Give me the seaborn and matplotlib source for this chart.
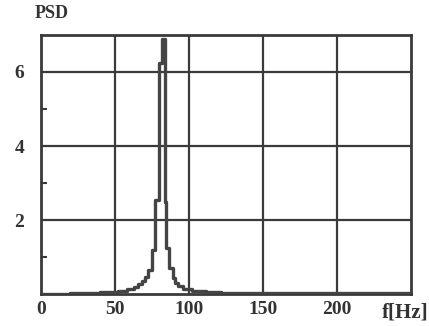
import matplotlib
matplotlib.use("Agg")
import matplotlib.pyplot as plt
import seaborn as sns
import pandas as pd

# Data (staircase PSD, values hold until next frequency)
freq_hz = [0, 20, 40, 52, 58, 63, 66, 68.5, 70.5, 72.5, 75.2, 77.2, 80.0, 82.0,
           84.0, 85.0, 86.7, 89.4, 91.0, 93.0, 96.0, 102.0, 112.0, 122.0, 250.0]
psd_vals = [0.02, 0.05, 0.07, 0.10, 0.15, 0.20, 0.27, 0.36, 0.48, 0.65, 1.20, 2.55, 6.25, 6.90,
            2.50, 1.25, 0.70, 0.45, 0.32, 0.22, 0.14, 0.10, 0.07, 0.03, 0.03]
x_ticks = [0, 50, 100, 150, 200]
y_ticks = [2, 4, 6]
x_tick_labels = ["0", "50", "100", "150", "200"]
y_tick_labels = ["2", "4", "6"]

sns.set_theme(style="white")
plt.rcParams["font.family"] = ["Liberation Serif", "DejaVu Serif"]
plt.rcParams["font.weight"] = "bold"

df = pd.DataFrame({"f": freq_hz, "psd": psd_vals})

fig = plt.figure(figsize=(4.29, 3.26), dpi=100)
ax = fig.add_axes([0.095, 0.097, 0.862, 0.796])

ink = "#3a3a3a"
ax.set_xlim(0, 250)
ax.set_ylim(0, 7)
ax.set_xticks(x_ticks)
ax.set_xticklabels(x_tick_labels)
ax.set_yticks(y_ticks)
ax.set_yticklabels(y_tick_labels)
ax.set_yticks([1, 3, 5], minor=True)
ax.grid(True, which="major", color=ink, linewidth=1.6)
ax.set_axisbelow(True)

sns.lineplot(data=df, x="f", y="psd", ax=ax, drawstyle="steps-post",
             color="#444444", linewidth=2.4, sort=False, zorder=3)

for s in ax.spines.values():
    s.set_color(ink)
    s.set_linewidth(2.0)

ax.tick_params(axis="both", which="major", length=0, labelsize=14, colors="#333333")
ax.tick_params(axis="x", pad=5)
ax.tick_params(axis="y", pad=12)
ax.tick_params(axis="y", which="minor", left=True, direction="in", length=4, width=1.5, color=ink)
for lab in ax.get_xticklabels() + ax.get_yticklabels():
    lab.set_fontweight("bold")

ax.set_xlabel("")
ax.set_ylabel("")
fig.text(35 / 429, 1 - 14 / 326, "PSD", fontsize=13, fontweight="bold",
         color="#333333", ha="left", va="center")
fig.text(428 / 429, 1 - 313 / 326, "f[Hz]", fontsize=15, fontweight="bold",
         color="#333333", ha="right", va="center")

fig.savefig("out.png", dpi=100, facecolor="white")
